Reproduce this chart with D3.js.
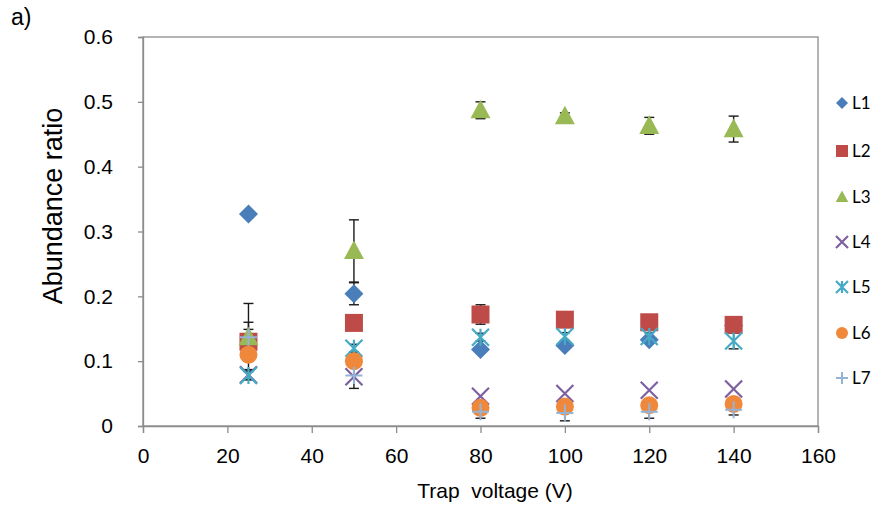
<!DOCTYPE html>
<html>
<head>
<meta charset="utf-8">
<script src="https://cdn.jsdelivr.net/npm/d3@7"></script>
<style>
  html, body { margin: 0; padding: 0; background: #ffffff; }
  svg { display: block; }
  text { font-family: "Liberation Sans", Arial, sans-serif; fill: #000; }
</style>
</head>
<body>
<svg id="chart" width="878" height="510"></svg>
<script>
// Trap voltages (V)
const voltages = [25, 50, 80, 100, 120, 140];

// Series names
const seriesNames = ["L1", "L2", "L3", "L4", "L5", "L6", "L7"];

// Abundance ratios per series
const L1 = [0.327, 0.204, 0.118, 0.124, 0.133, 0.155];
const L2 = [0.130, 0.159, 0.172, 0.164, 0.160, 0.156];
const L3 = [0.137, 0.270, 0.487, 0.478, 0.463, 0.458];
const L4 = [0.079, 0.076, 0.046, 0.050, 0.055, 0.057];
const L5 = [0.078, 0.120, 0.137, 0.138, 0.138, 0.131];
const L6 = [0.110, 0.100, 0.028, 0.030, 0.032, 0.034];
const L7 = [0.137, 0.078, 0.022, 0.020, 0.022, 0.025];

// Standard deviations (error bars); 0 = not shown
const L1err = [0, 0.017, 0, 0, 0, 0];
const L2err = [0.030, 0, 0.015, 0.006, 0.006, 0.012];
const L3err = [0.052, 0.048, 0.013, 0.005, 0.013, 0.020];
const L4err = [0.008, 0, 0, 0, 0, 0];
const L5err = [0.006, 0.006, 0.006, 0.006, 0.006, 0.012];
const L6err = [0, 0, 0.010, 0.010, 0.008, 0.008];
const L7err = [0.012, 0.020, 0.010, 0.012, 0.010, 0.008];

// Axis ticks
const xTicks = [0, 20, 40, 60, 80, 100, 120, 140, 160];
const yTicks = [0, 0.1, 0.2, 0.3, 0.4, 0.5, 0.6];

const colors = ["#4a7ebb", "#be4b48", "#98b954", "#7d60a0", "#46aac5", "#f0883c", "#95b3d7"];
const shapes = ["diamond", "square", "triangle", "x", "asterisk", "circle", "plus"];

const values = [L1, L2, L3, L4, L5, L6, L7];
const errors = [L1err, L2err, L3err, L4err, L5err, L6err, L7err];

const series = seriesNames.map((name, i) => ({
  name, color: colors[i], shape: shapes[i],
  points: voltages.map((v, j) => ({ x: v, y: values[i][j], e: errors[i][j] }))
}));

const svg = d3.select("#chart");
const plotL = 143, plotR = 818, plotT = 37, plotB = 426;

const x = d3.scaleLinear().domain([0, 160]).range([plotL, plotR]);
const y = d3.scaleLinear().domain([0, 0.6]).range([plotB, plotT]);

const axisColor = "#8c8c8c";
const tickFont = "21px";

// Plot frame
svg.append("rect")
  .attr("x", plotL).attr("y", plotT)
  .attr("width", plotR - plotL).attr("height", plotB - plotT)
  .attr("fill", "none").attr("stroke", axisColor).attr("stroke-width", 1.3);

// X axis
const gx = svg.append("g")
  .attr("transform", `translate(0,${plotB})`)
  .call(d3.axisBottom(x).tickValues(xTicks).tickSize(7).tickFormat(d3.format("d")));
gx.select(".domain").attr("stroke", axisColor).attr("stroke-width", 1.3);
gx.selectAll(".tick line").attr("stroke", axisColor).attr("stroke-width", 1.3);
gx.selectAll(".tick text")
  .attr("y", 37).attr("dy", null)
  .style("font-size", tickFont).style("font-family", "Liberation Sans, Arial, sans-serif").attr("fill", "#000");

// Y axis
const gy = svg.append("g")
  .attr("transform", `translate(${plotL},0)`)
  .call(d3.axisLeft(y).tickValues(yTicks).tickSize(5).tickPadding(26)
    .tickFormat(d => d === 0 ? "0" : d3.format(".1f")(d)));
gy.select(".domain").attr("stroke", axisColor).attr("stroke-width", 1.3);
gy.selectAll(".tick line").attr("stroke", axisColor).attr("stroke-width", 1.3);
gy.selectAll(".tick text")
  .attr("x", -30)
  .style("font-size", tickFont).style("font-family", "Liberation Sans, Arial, sans-serif").attr("fill", "#000");

// Axis titles
svg.append("text")
  .attr("x", 495).attr("y", 498)
  .attr("text-anchor", "middle")
  .style("font-size", "21px")
  .style("white-space", "pre")
  .text("Trap  voltage (V)");

svg.append("text")
  .attr("transform", "translate(62,206) rotate(-90)")
  .attr("text-anchor", "middle")
  .style("font-size", "27px")
  .text("Abundance ratio");

// Panel label
svg.append("text").attr("x", 11).attr("y", 25).style("font-size", "23px").text("a)");

// Marker path generator
function markerPath(shape, s) {
  const h = s / 2;
  switch (shape) {
    case "diamond": return `M0,${-h}L${h},0L0,${h}L${-h},0Z`;
    case "square": return `M${-h},${-h}H${h}V${h}H${-h}Z`;
    case "triangle": return `M0,${-h * 1.1}L${h * 1.05},${h * 0.85}L${-h * 1.05},${h * 0.85}Z`;
    case "circle": return d3.symbol(d3.symbolCircle, Math.PI * h * h)();
    case "x": return `M${-h},${-h}L${h},${h}M${-h},${h}L${h},${-h}`;
    case "asterisk": return `M${-h},${-h}L${h},${h}M${-h},${h}L${h},${-h}M0,${-h}V${h}`;
    case "plus": return `M${-h},0H${h}M0,${-h}V${h}`;
  }
}
const filled = new Set(["diamond", "square", "triangle", "circle"]);

function drawMarker(g, shape, color, size) {
  const p = g.append("path").attr("d", markerPath(shape, size));
  if (filled.has(shape)) {
    p.attr("fill", color).attr("stroke", "none");
  } else {
    p.attr("fill", "none").attr("stroke", color).attr("stroke-width", shape === "plus" ? 2 : 2.2);
  }
  return p;
}

const markerSize = { diamond: 19, square: 18, triangle: 19, x: 17, asterisk: 17, circle: 18, plus: 17 };

// Error bars (drawn beneath markers)
const eb = svg.append("g").attr("stroke", "#1a1a1a").attr("stroke-width", 1.4);
series.forEach(s => {
  s.points.filter(p => p.e > 0).forEach(p => {
    const cx = x(p.x), y1 = y(p.y + p.e), y2 = y(p.y - p.e);
    eb.append("line").attr("x1", cx).attr("x2", cx).attr("y1", y1).attr("y2", y2);
    eb.append("line").attr("x1", cx - 5).attr("x2", cx + 5).attr("y1", y1).attr("y2", y1);
    eb.append("line").attr("x1", cx - 5).attr("x2", cx + 5).attr("y1", y2).attr("y2", y2);
  });
});

// Markers
series.forEach(s => {
  const g = svg.append("g").attr("class", "series");
  s.points.forEach(p => {
    const mg = g.append("g").attr("transform", `translate(${x(p.x)},${y(p.y)})`);
    drawMarker(mg, s.shape, s.color, markerSize[s.shape]);
  });
});

// Legend
const legendY = [103, 151, 197, 242, 287, 333, 378];
const lg = svg.append("g");
series.forEach((s, i) => {
  const g = lg.append("g").attr("transform", `translate(842,${legendY[i]})`);
  drawMarker(g, s.shape, s.color, 12);
  g.append("text").attr("x", 10).attr("y", 6)
    .style("font-family", "Lato, 'Open Sans', sans-serif")
    .style("font-size", "17px")
    .text(s.name);
});
</script>
</body>
</html>
